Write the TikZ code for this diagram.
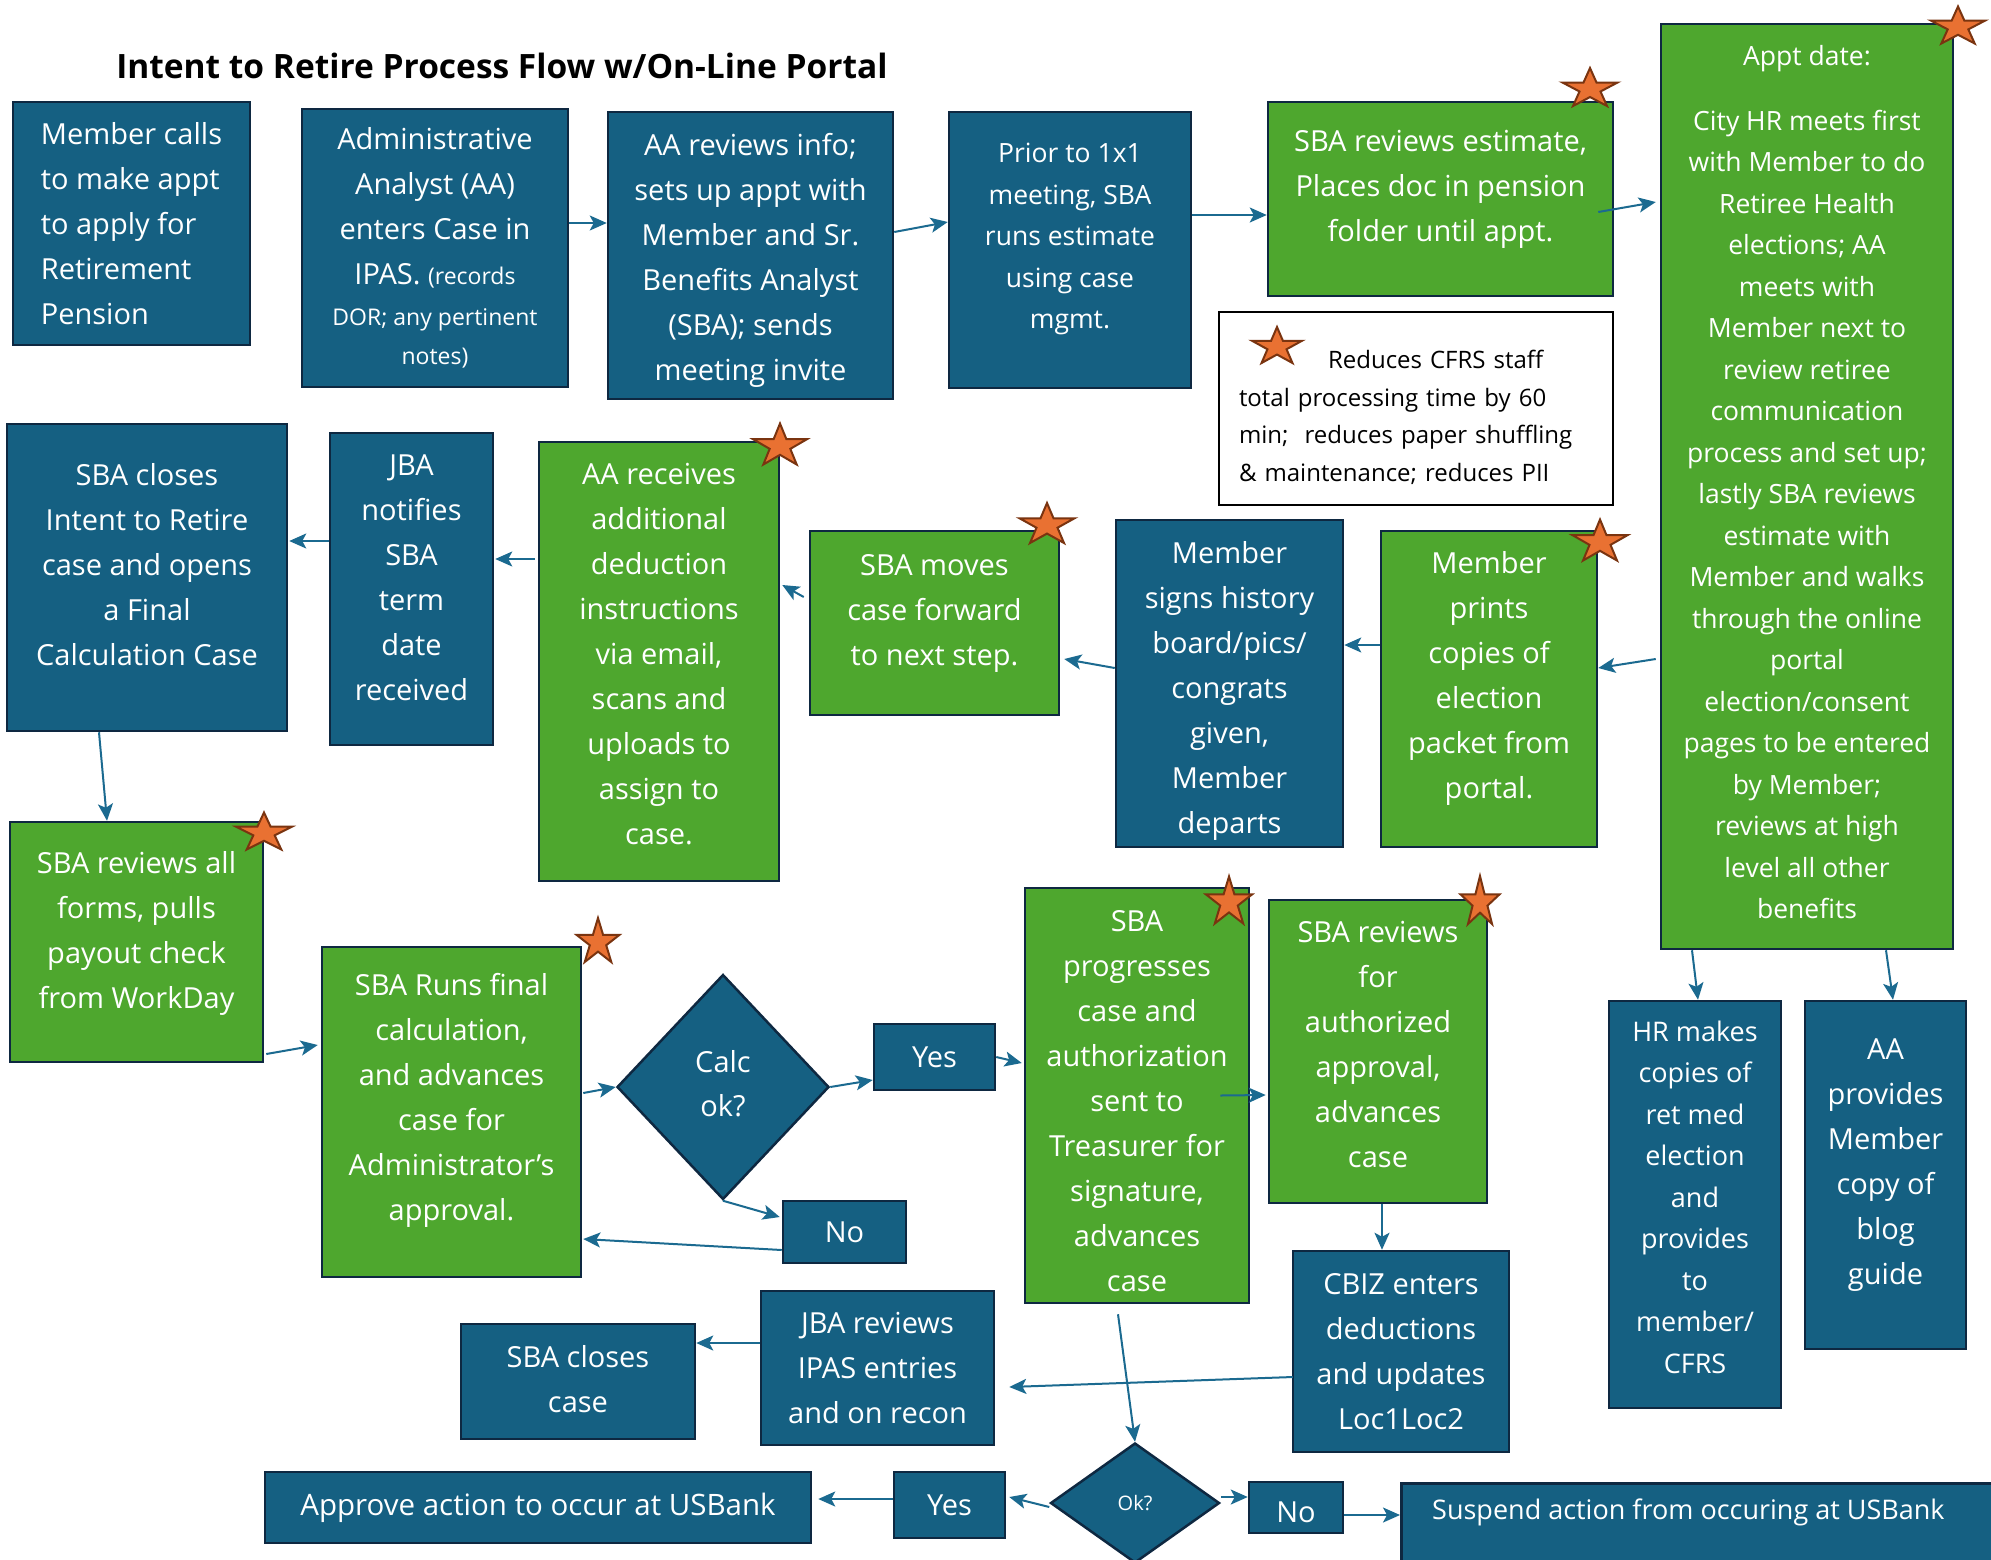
\documentclass[tikz,border=0pt]{standalone}
\usepackage{fontspec}
\setmainfont{Open Sans}
\usetikzlibrary{arrows.meta,shapes.geometric,calc}

\definecolor{boxblue}{HTML}{156082}
\definecolor{boxgreen}{HTML}{4EA72E}
\definecolor{boxedge}{HTML}{0E2841}
\definecolor{linkblue}{HTML}{1B6A90}
\definecolor{starfill}{HTML}{E97132}
\definecolor{staredge}{HTML}{7A3410}

\tikzset{
  box/.style={draw=boxedge, line width=2.5pt, inner sep=0pt},
  bluebox/.style={box, fill=boxblue},
  greenbox/.style={box, fill=boxgreen},
  sz/.style 2 args={minimum width=#1pt, minimum height=#2pt},
  btext/.style={text=white, align=center, inner sep=0pt,
    font=\fontsize{29pt}{45pt}\selectfont},
  smallfont/.style={font=\fontsize{26.5pt}{41.5pt}\selectfont},
  decision/.style={diamond, draw=boxedge, line width=2.5pt, fill=boxblue, inner sep=0pt},
  link/.style={draw=linkblue, line width=2pt,
    -{Stealth[length=17pt,width=15pt,inset=4pt]}},
  starsty/.style={fill=starfill, draw=staredge, line width=2pt, line join=miter}
}

% five-pointed star: centre x, centre y, width, height
\newcommand\ostar[4]{%
  \begin{scope}[shift={(#1,{#2+0.053*#4})}, xscale=#3/1.902, yscale=#4/1.809]
    \draw[starsty] (-90:1) -- (-54:0.382)
      \foreach \a in {-18,54,126,198}{ -- (\a:1) -- (\a+36:0.382)} -- cycle;
  \end{scope}}

\begin{document}
\begin{tikzpicture}[x=1pt,y=-1pt]
\useasboundingbox (0,0) rectangle (1991,1559);
\clip (0,0) rectangle (1991,1559);
\fill[white] (0,0) rectangle (1991,1559);

\node[font=\fontsize{33.5pt}{38pt}\selectfont\bfseries, inner sep=0pt] (title) at (502,66)
  {Intent to Retire Process Flow w/On-Line Portal};

% ---- top row
\node[bluebox, sz={237}{243}] (b1) at (131.5,223.5) {};
\node[btext, align=left] (b1t) at (b1)
  {Member calls\\to make appt\\to apply for\\Retirement\\Pension};
\node[bluebox, sz={266}{278}] (b2) at (435,248) {};
\node[btext] (b2t) at (b2)
  {Administrative\\Analyst (AA)\\enters Case in\\IPAS. {\fontsize{23pt}{40pt}\selectfont(records}\\[-4pt]
   {\fontsize{23pt}{40pt}\selectfont DOR; any pertinent}\\[-6pt]{\fontsize{23pt}{40pt}\selectfont notes)}};
\node[bluebox, sz={285}{287}] (b3) at (750.5,255.5) {};
\node[btext] (b3t) at ([yshift=-4.5pt]b3)
  {AA reviews info;\\sets up appt with\\Member and Sr.\\Benefits Analyst\\(SBA); sends\\meeting invite};
\node[bluebox, sz={242}{276}] (b4) at (1070,250) {};
\node[btext, smallfont] (b4t) at ([yshift=11pt]b4)
  {Prior to 1x1\\meeting, SBA\\runs estimate\\using case\\mgmt.};
\node[greenbox, sz={345}{194}] (b5) at (1440.5,199) {};
\node[btext] (b5t) at ([yshift=10pt]b5)
  {SBA reviews estimate,\\Places doc in pension\\folder until appt.};
\node[draw=black, line width=2.5pt, fill=white, sz={394}{193}] (legend) at (1416,408.5) {};
\node[align=left, text width=354pt, inner sep=0pt,
  font=\fontsize{24pt}{37.5pt}\selectfont] (legendt) at ([xshift=0pt,yshift=-9pt]legend)
  {\hspace*{89pt}Reduces CFRS staff\\total processing time by 60\\min;\ \ reduces paper shuffling\\\& maintenance; reduces PII};
\node[greenbox, sz={292}{925}] (b6) at (1807,486.5) {};
\node[btext, smallfont] (b6t) at ([yshift=4.5pt]b6)
  {Appt date:\\[23.5pt]City HR meets first\\with Member to do\\Retiree Health\\elections; AA\\meets with\\Member next to\\review retiree\\communication\\process and set up;\\lastly SBA reviews\\estimate with\\Member and walks\\through the online\\portal\\election/consent\\pages to be entered\\by Member;\\reviews at high\\level all other\\benefits};

% ---- middle row
\node[bluebox, sz={280}{307}] (r2a) at (147,577.5) {};
\node[btext] (r2at) at ([yshift=13pt]r2a)
  {SBA closes\\Intent to Retire\\case and opens\\a Final\\Calculation Case};
\node[bluebox, sz={163}{312}] (r2b) at (411.5,589) {};
\node[btext] (r2bt) at ([yshift=11pt]r2b)
  {JBA\\notifies\\SBA\\term\\date\\received};
\node[greenbox, sz={240}{439}] (r2c) at (659,661.5) {};
\node[btext] (r2ct) at ([yshift=7.5pt]r2c)
  {AA receives\\additional\\deduction\\instructions\\via email,\\scans and\\uploads to\\assign to\\case.};
\node[greenbox, sz={249}{184}] (r2d) at (934.5,623) {};
\node[btext] (r2dt) at ([yshift=10pt]r2d)
  {SBA moves\\case forward\\to next step.};
\node[bluebox, sz={227}{327}] (r2e) at (1229.5,683.5) {};
\node[btext] (r2et) at ([yshift=-7pt]r2e)
  {Member\\signs history\\board/pics/\\congrats\\given,\\Member\\departs};
\node[greenbox, sz={216}{316}] (r2f) at (1489,689) {};
\node[btext] (r2ft) at ([yshift=11pt]r2f)
  {Member\\prints\\copies of\\election\\packet from\\portal.};

% ---- lower rows
\node[greenbox, sz={253}{240}] (r3a) at (136.5,942) {};
\node[btext] (r3at) at ([yshift=9pt]r3a)
  {SBA reviews all\\forms, pulls\\payout check\\from WorkDay};
\node[greenbox, sz={259}{330}] (r3b) at (451.5,1112) {};
\node[btext] (r3bt) at ([yshift=11.5pt]r3b)
  {SBA Runs final\\calculation,\\and advances\\case for\\Administrator’s\\approval.};
\node[decision, minimum width=212pt, minimum height=225pt] (dcalc) at (723,1087) {};
\node[btext, font=\fontsize{29pt}{44pt}\selectfont] (dcalct) at ([yshift=3pt]dcalc) {Calc\\ok?};
\node[bluebox, sz={121}{66}] (yes1) at (934.5,1057) {};
\node[btext] (yes1t) at (yes1) {Yes};
\node[bluebox, sz={123}{62}] (no1) at (844.5,1232) {};
\node[btext] (no1t) at (no1) {No};
\node[greenbox, sz={224}{415}] (r3c) at (1137,1095.5) {};
\node[btext] (r3ct) at ([yshift=-5.5pt]r3c)
  {SBA\\progresses\\case and\\authorization\\sent to\\Treasurer for\\signature,\\advances\\case};
\node[greenbox, sz={218}{303}] (r3d) at (1378,1051.5) {};
\node[btext] (r3dt) at ([yshift=7pt]r3d)
  {SBA reviews\\for\\authorized\\approval,\\advances\\case};
\node[bluebox, sz={172}{407}] (hr) at (1695,1204.5) {};
\node[btext, font=\fontsize{27pt}{41.5pt}\selectfont] (hrt) at ([yshift=7.5pt]hr)
  {HR makes\\copies of\\ret med\\election\\and\\provides\\to\\member/\\CFRS};
\node[bluebox, sz={161}{348}] (aap) at (1885.5,1175) {};
\node[btext] (aapt) at ([yshift=9.5pt]aap)
  {AA\\provides\\Member\\copy of\\blog\\guide};
\node[bluebox, sz={216}{201}] (cbiz) at (1401,1351.5) {};
\node[btext] (cbizt) at (cbiz)
  {CBIZ enters\\deductions\\and updates\\Loc1Loc2};
\node[bluebox, sz={233}{154}] (jba2) at (877.5,1368) {};
\node[btext] (jba2t) at (jba2)
  {JBA reviews\\IPAS entries\\and on recon};
\node[bluebox, sz={234}{115}] (sbac) at (578,1381.5) {};
\node[btext] (sbact) at ([yshift=2.5pt]sbac) {SBA closes\\case};
\node[bluebox, sz={546}{71}] (appr) at (538,1507.5) {};
\node[btext, font=\fontsize{29.5pt}{36pt}\selectfont] (apprt) at (appr)
  {Approve action to occur at USBank};
\node[bluebox, sz={111}{66}] (yes2) at (949.5,1505) {};
\node[btext] (yes2t) at (yes2) {Yes};
\node[decision, minimum width=169pt, minimum height=120pt] (dok) at (1135,1503) {};
\node[btext, font=\fontsize{20pt}{24pt}\selectfont] (dokt) at (dok) {Ok?};
\node[bluebox, sz={94}{51}] (no2) at (1296,1507.5) {};
\node[btext] (no2t) at ([yshift=-5pt]no2) {No};
\node[bluebox, sz={664}{134}, anchor=north west] (susp) at (1400,1482) {};
\node[btext, anchor=west, font=\fontsize{27pt}{32pt}\selectfont] (suspt) at (1432,1512)
  {Suspend action from occuring at USBank};

% ---- connectors
\draw[link] ([yshift=25pt]b2.east) -- ([yshift=32.5pt]b3.west);
\draw[link] ([yshift=23.5pt]b3.east) -- ([yshift=28pt]b4.west);
\draw[link] ([yshift=35pt]b4.east) -- ([yshift=-16pt]b5.west);
\draw[link] ([xshift=-16pt,yshift=-13pt]b5.east) -- ([xshift=-4pt,yshift=284.5pt]b6.west);
\draw[link] ([xshift=-4pt,yshift=-172.5pt]b6.west) -- ([yshift=21pt]r2f.east);
\draw[link] ([yshift=44pt]r2f.west) -- ([yshift=38.5pt]r2e.east);
\draw[link] ([yshift=15.5pt]r2e.west) -- ([xshift=4pt,yshift=-36pt]r2d.east);
\draw[link] ([xshift=-5pt,yshift=26pt]r2d.west) -- ([xshift=2pt,yshift=76.5pt]r2c.east);
\draw[link] ([xshift=-3pt,yshift=102.5pt]r2c.west) -- ([xshift=1pt,yshift=30pt]r2b.east);
\draw[link] ([yshift=48pt]r2b.west) -- ([xshift=1pt,yshift=36.5pt]r2a.east);
\draw[link] ([xshift=-48pt]r2a.south) -- ([xshift=-29.5pt]r3a.north);
\draw[link] ([xshift=2pt,yshift=-112pt]r3a.east) -- ([xshift=-3pt,yshift=67pt]r3b.west);
\draw[link] ([xshift=1pt,yshift=19pt]r3b.east) -- (dcalc.west);
\draw[link] (dcalc.east) -- ([yshift=-23pt]yes1.west);
\draw[link] (dcalc.south) -- ([xshift=-2pt,yshift=15pt]no1.west);
\draw[link] ([yshift=-18pt]no1.west) -- ([xshift=1pt,yshift=-127pt]r3b.east);
\draw[link] (yes1.east) -- ([xshift=-2pt,yshift=32.5pt]r3c.west);
\draw[link] ([xshift=-30pt]r3c.east) -- ([xshift=-2pt,yshift=-43.5pt]r3d.west);
\draw[link] ([xshift=4pt]r3d.south) -- ([xshift=-19pt]cbiz.north);
\draw[link] ([xshift=1pt,yshift=-25.5pt]cbiz.west) -- ([xshift=14pt,yshift=-19pt]jba2.east);
\draw[link] ([yshift=25pt]jba2.west) -- ([yshift=38.5pt]sbac.east);
\draw[link] ([xshift=-19pt,yshift=-10pt]r3c.south) -- (dok.north);
\draw[link] ([yshift=-4pt]dok.west) -- ([xshift=3pt,yshift=8pt]yes2.east);
\draw[link] ([yshift=6pt]yes2.west) -- ([xshift=6pt,yshift=8.5pt]appr.east);
\draw[link] ([yshift=6pt]dok.east) -- ([yshift=10.5pt]no2.west);
\draw[link] ([yshift=-7.5pt]no2.east) -- ([yshift=-33pt]susp.north west);
\draw[link] ([xshift=-115pt]b6.south) -- ([xshift=3pt]hr.north);
\draw[link] ([xshift=79pt]b6.south) -- ([xshift=7.5pt]aap.north);

% ---- stars marking time-saving steps
\ostar{1590}{87}{55}{38}
\ostar{1958}{25}{54}{37}
\ostar{1277}{345}{50}{36}
\ostar{780}{444}{54}{41}
\ostar{264}{831}{56}{37}
\ostar{1047}{523}{55}{40}
\ostar{1600}{540}{55}{41}
\ostar{1229}{900}{46}{47}
\ostar{1480}{900}{39}{48}
\ostar{598}{940}{43}{44}
\end{tikzpicture}
\end{document}
